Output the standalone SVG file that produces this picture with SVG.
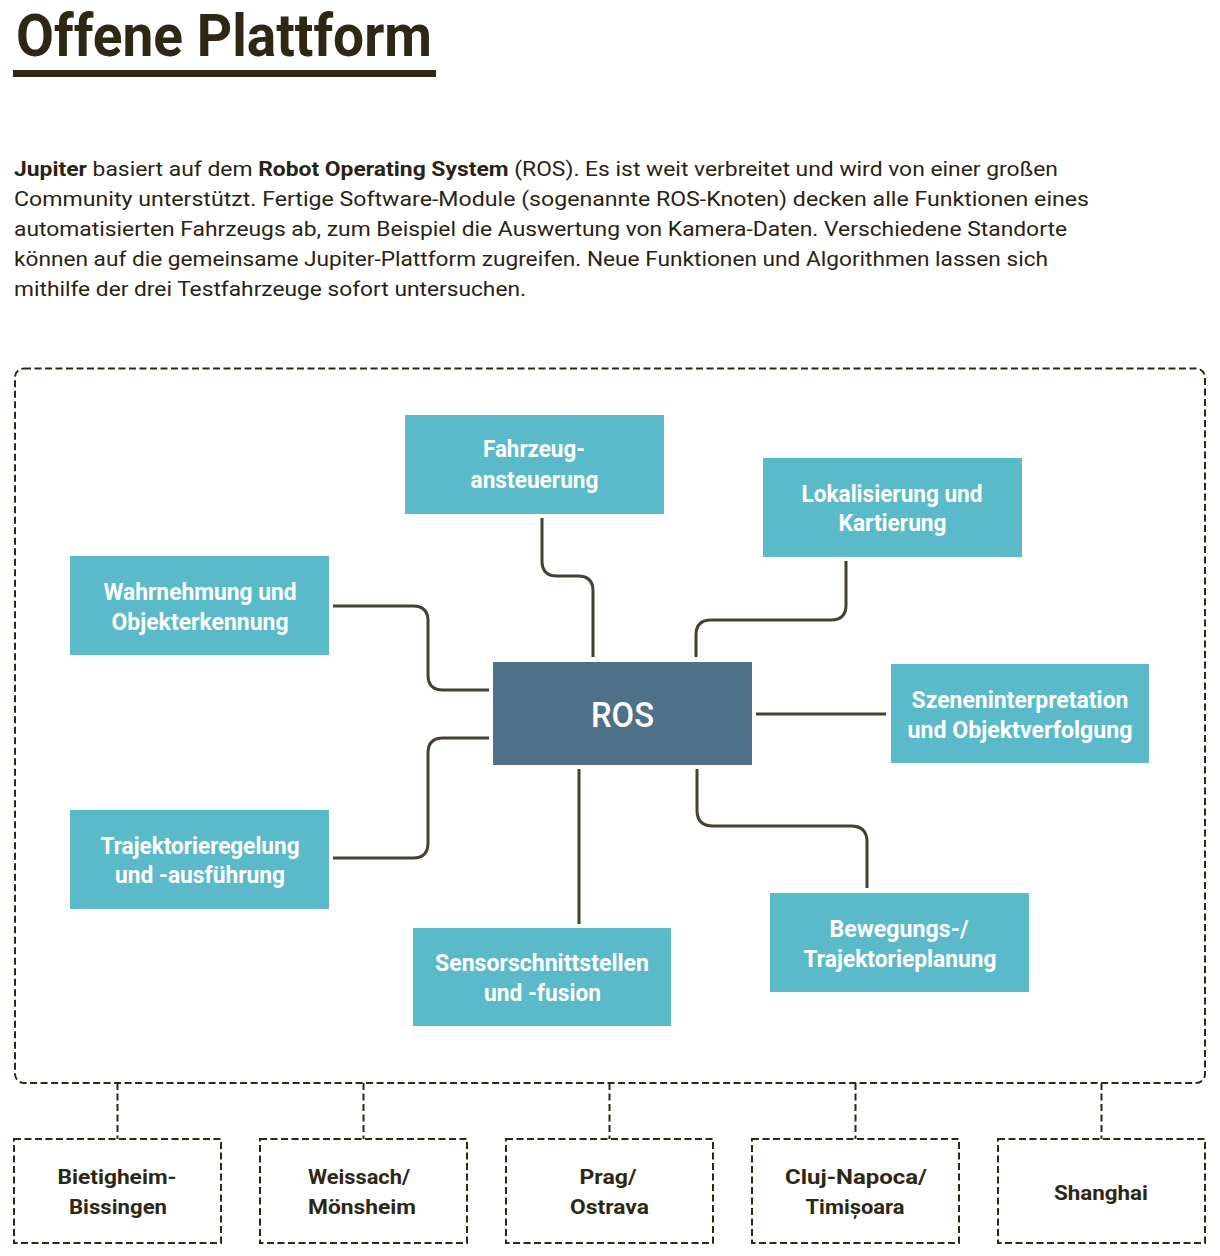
<svg xmlns="http://www.w3.org/2000/svg" width="1220" height="1256" viewBox="0 0 1220 1256">
<style>
.bg{fill:#ffffff}
.title{font-family:Roboto,"Liberation Sans",sans-serif;font-weight:700;font-size:60px;fill:#2d2714}
.body{font-family:Roboto,"Liberation Sans",sans-serif;font-size:20px;fill:#2a2313}
.b{font-weight:700}
.node rect.box{fill:#5bbac9}
.node text{font-family:Roboto,"Liberation Sans",sans-serif;font-weight:700;font-size:23px;fill:#ffffff;text-anchor:middle}
#ros rect{fill:#4e7189}
#ros text{font-family:Roboto,"Liberation Sans",sans-serif;font-weight:500;font-size:35px;fill:#ffffff;text-anchor:middle}
.conn path{fill:none;stroke:#47402f;stroke-width:3}
.dash{fill:none;stroke:#2d2714;stroke-width:2;stroke-dasharray:7 3.5}
.site text{font-family:Roboto,"Liberation Sans",sans-serif;font-weight:700;font-size:21px;fill:#2d2714;text-anchor:middle}
</style>
<rect class="bg" x="0" y="0" width="1220" height="1256"/>

<g id="header">
<text class="title" x="16" y="56" textLength="416" lengthAdjust="spacingAndGlyphs">Offene Plattform</text>
<rect x="13" y="70" width="423" height="7" fill="#2d2714"/>
</g>

<g id="intro">
<text class="body" x="14" y="176" textLength="1044" lengthAdjust="spacingAndGlyphs"><tspan class="b">Jupiter</tspan> basiert auf dem <tspan class="b">Robot Operating System</tspan> (ROS). Es ist weit verbreitet und wird von einer großen</text>
<text class="body" x="14" y="206" textLength="1075" lengthAdjust="spacingAndGlyphs">Community unterstützt. Fertige Software-Module (sogenannte ROS-Knoten) decken alle Funktionen eines</text>
<text class="body" x="14" y="236" textLength="1053" lengthAdjust="spacingAndGlyphs">automatisierten Fahrzeugs ab, zum Beispiel die Auswertung von Kamera-Daten. Verschiedene Standorte</text>
<text class="body" x="14" y="266" textLength="1034" lengthAdjust="spacingAndGlyphs">können auf die gemeinsame Jupiter-Plattform zugreifen. Neue Funktionen und Algorithmen lassen sich</text>
<text class="body" x="14" y="296" textLength="512" lengthAdjust="spacingAndGlyphs">mithilfe der drei Testfahrzeuge sofort untersuchen.</text>
</g>

<g id="platform">
<rect class="dash" x="15" y="368.5" width="1190" height="714.5" rx="9"/>
</g>

<g id="connectors" class="conn">
<path d="M542,518 V561 Q542,576 557,576 H578 Q593,576 593,591 V657"/>
<path d="M846,561 V605 Q846,620 831,620 H711 Q696,620 696,635 V657"/>
<path d="M333,606 H413 Q428,606 428,621 V675 Q428,690 443,690 H489"/>
<path d="M333,858 H413 Q428,858 428,843 V753 Q428,738 443,738 H489"/>
<path d="M756,714 H886"/>
<path d="M579,769 V924"/>
<path d="M697,769 V810 Q697,826 713,826 H851 Q867,826 867,842 V888"/>
</g>

<g id="n-fahrzeug" class="node">
<rect class="box" x="405" y="415" width="259" height="99"/>
<text x="534" y="457" textLength="102" lengthAdjust="spacingAndGlyphs">Fahrzeug-</text>
<text x="534.5" y="488" textLength="128" lengthAdjust="spacingAndGlyphs">ansteuerung</text>
</g>
<g id="n-lokalisierung" class="node">
<rect class="box" x="763" y="458" width="259" height="99"/>
<text x="892" y="501.5" textLength="181" lengthAdjust="spacingAndGlyphs">Lokalisierung und</text>
<text x="892.5" y="531" textLength="108" lengthAdjust="spacingAndGlyphs">Kartierung</text>
</g>
<g id="n-wahrnehmung" class="node">
<rect class="box" x="70" y="556" width="259" height="99"/>
<text x="200" y="600" textLength="193" lengthAdjust="spacingAndGlyphs">Wahrnehmung und</text>
<text x="200" y="629.5" textLength="177" lengthAdjust="spacingAndGlyphs">Objekterkennung</text>
</g>
<g id="ros" class="node">
<rect x="493" y="662" width="259" height="103"/>
<text x="622.5" y="727" textLength="63" lengthAdjust="spacingAndGlyphs">ROS</text>
</g>
<g id="n-szenen" class="node">
<rect class="box" x="891" y="664" width="258" height="99"/>
<text x="1020" y="708" textLength="217" lengthAdjust="spacingAndGlyphs">Szeneninterpretation</text>
<text x="1020" y="737.5" textLength="225" lengthAdjust="spacingAndGlyphs">und Objektverfolgung</text>
</g>
<g id="n-trajektorieregelung" class="node">
<rect class="box" x="70" y="810" width="259" height="99"/>
<text x="200" y="853.5" textLength="199" lengthAdjust="spacingAndGlyphs">Trajektorieregelung</text>
<text x="200" y="883" textLength="170" lengthAdjust="spacingAndGlyphs">und -ausführung</text>
</g>
<g id="n-sensor" class="node">
<rect class="box" x="413" y="928" width="258" height="98"/>
<text x="542" y="971" textLength="214" lengthAdjust="spacingAndGlyphs">Sensorschnittstellen</text>
<text x="542.5" y="1001" textLength="117" lengthAdjust="spacingAndGlyphs">und -fusion</text>
</g>
<g id="n-bewegung" class="node">
<rect class="box" x="770" y="893" width="259" height="99"/>
<text x="899" y="937" textLength="139" lengthAdjust="spacingAndGlyphs">Bewegungs-/</text>
<text x="900" y="967" textLength="193" lengthAdjust="spacingAndGlyphs">Trajektorieplanung</text>
</g>

<g id="site-connectors">
<path class="dash" d="M117.5,1083 V1139 M363.5,1083 V1139 M609.5,1083 V1139 M855.5,1083 V1139 M1101.5,1083 V1139"/>
</g>

<g id="s-bietigheim" class="site">
<rect class="dash" x="14" y="1139" width="207" height="104"/>
<text x="117" y="1183.5" textLength="119" lengthAdjust="spacingAndGlyphs">Bietigheim-</text>
<text x="118" y="1213.5" textLength="98" lengthAdjust="spacingAndGlyphs">Bissingen</text>
</g>
<g id="s-weissach" class="site">
<rect class="dash" x="260" y="1139" width="207" height="104"/>
<text x="359" y="1183.5" textLength="102" lengthAdjust="spacingAndGlyphs">Weissach/</text>
<text x="362" y="1213.5" textLength="108" lengthAdjust="spacingAndGlyphs">Mönsheim</text>
</g>
<g id="s-prag" class="site">
<rect class="dash" x="506" y="1139" width="207" height="104"/>
<text x="608" y="1183.5" textLength="57" lengthAdjust="spacingAndGlyphs">Prag/</text>
<text x="609.5" y="1213.5" textLength="79" lengthAdjust="spacingAndGlyphs">Ostrava</text>
</g>
<g id="s-cluj" class="site">
<rect class="dash" x="752" y="1139" width="207" height="104"/>
<text x="856" y="1183.5" textLength="142" lengthAdjust="spacingAndGlyphs">Cluj-Napoca/</text>
<text x="855" y="1213.5" textLength="99" lengthAdjust="spacingAndGlyphs">Timișoara</text>
</g>
<g id="s-shanghai" class="site">
<rect class="dash" x="998" y="1139" width="207" height="104"/>
<text x="1101" y="1199.5" textLength="94" lengthAdjust="spacingAndGlyphs">Shanghai</text>
</g>
</svg>
